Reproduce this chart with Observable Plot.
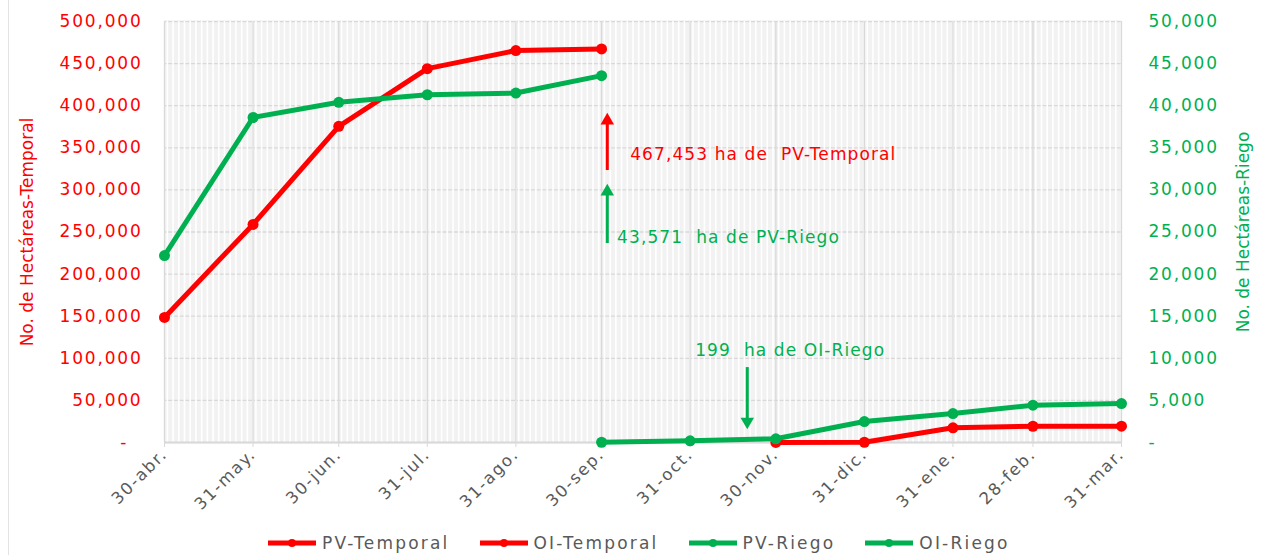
<!DOCTYPE html>
<html>
<head>
<meta charset="utf-8">
<script src="https://cdn.jsdelivr.net/npm/d3@7"></script>
<script src="https://cdn.jsdelivr.net/npm/@observablehq/plot@0.6"></script>
<style>
  html, body { margin: 0; padding: 0; background: #fff; }
  body { width: 1262px; height: 555px; position: relative; overflow: hidden; font-family: "DejaVu Sans", sans-serif; }
  #edge { position: absolute; left: 8px; top: 0; width: 1px; height: 555px; background: #e3e3e3; }
  #legend { position: absolute; left: 268px; top: 533px; display: flex;
            font-size: 17px; letter-spacing: 2.2px; color: #595959; }
  .item { display: flex; align-items: center; margin-right: 30px; }
  .item svg { margin-right: 6px; }
</style>
</head>
<body>
<div id="edge"></div>
<div id="chart"></div>
<div id="legend"></div>
<script>
// ---- data ----
const dates = ["2022-04-30","2022-05-31","2022-06-30","2022-07-31","2022-08-31","2022-09-30",
               "2022-10-31","2022-11-30","2022-12-31","2023-01-31","2023-02-28","2023-03-31"];
const xLabels = ["30-abr.","31-may.","30-jun.","31-jul.","31-ago.","30-sep.",
                 "31-oct.","30-nov.","31-dic.","31-ene.","28-feb.","31-mar."];
const pvTemporal = [148500, 259000, 375500, 444000, 465500, 467453, null, null, null, null, null, null];
const oiTemporal = [null, null, null, null, null, null, null, 50, 300, 17500, 19300, 19400];
const pvRiego    = [22200, 38600, 40400, 41300, 41500, 43571, null, null, null, null, null, null];
const oiRiego    = [null, null, null, null, null, 30, 199, 440, 2490, 3440, 4430, 4630];
const seriesNames = ["PV-Temporal", "OI-Temporal", "PV-Riego", "OI-Riego"];
const leftTicks = [0, 50000, 100000, 150000, 200000, 250000, 300000, 350000, 400000, 450000, 500000];
const rightTicks = [0, 5000, 10000, 15000, 20000, 25000, 30000, 35000, 40000, 45000, 50000];
// annotations (data units: date, left-axis value)
const annoTexts = ["467,453 ha de \u00a0PV-Temporal", "43,571 \u00a0ha de PV-Riego", "199 \u00a0ha de OI-Riego"];
const annoDates = ["2022-10-10", "2022-10-05T10:00", "2022-11-01T18:00"];
const annoValues = [342000, 243500, 109300];
const arrowDates = ["2022-10-02", "2022-10-02", "2022-11-20"];
const arrowFrom = [323000, 236300, 89000];
const arrowTo = [380000, 295700, 28500];
const arrowHead = [382400, 298100, 24900];
const arrowRotate = [0, 0, 180];

const RED = "#ff0000", GREEN = "#00b050";
const seriesColors = [RED, RED, GREEN, GREEN];
const ratio = 10; // right axis scale factor

const parse = s => new Date(s + (s.length === 10 ? "T00:00Z" : "Z"));
const dateObjs = dates.map(parse);
const rows = (arr, k) => dateObjs.map((d, i) => ({date: d, v: arr[i] == null ? null : arr[i] * k})).filter(r => r.v != null);
const annoColors = [RED, GREEN, GREEN];
const annos = annoTexts.map((t, i) => ({t, date: parse(annoDates[i]), v: annoValues[i], c: annoColors[i]}));
const arrows = arrowDates.map((d, i) => ({date: parse(d), from: arrowFrom[i], to: arrowTo[i], head: arrowHead[i], rot: arrowRotate[i], c: [RED, GREEN, GREEN][i]}));
const fmt = d3.format(",");
const labelOf = d => xLabels[dateObjs.findIndex(t => +t === +d)];

const lineMarks = [];
[[pvTemporal, 1, RED], [oiTemporal, 1, RED], [pvRiego, ratio, GREEN], [oiRiego, ratio, GREEN]].forEach(([arr, k, c]) => {
  const data = rows(arr, k);
  lineMarks.push(Plot.lineY(data, {x: "date", y: "v", stroke: c, strokeWidth: 5}));
  lineMarks.push(Plot.dot(data, {x: "date", y: "v", fill: c, r: 5.5}));
});

const svg = Plot.plot({
  width: 1262, height: 520,
  marginTop: 21, marginBottom: 78, marginLeft: 164, marginRight: 141,
  style: {fontFamily: "'DejaVu Sans', sans-serif", fontSize: "17px", background: "transparent", overflow: "visible"},
  x: {type: "utc", domain: [dateObjs[0], dateObjs[dateObjs.length - 1]]},
  y: {domain: [0, 500000]},
  marks: [
    Plot.frame({fill: "#f2f2f2", stroke: null}),
    Plot.gridY({ticks: leftTicks, stroke: "#d9d9d9", strokeOpacity: 1, strokeWidth: 1.3}),
    Plot.gridX({ticks: d3.utcDay.every(2), stroke: "#ffffff", strokeOpacity: 1, strokeWidth: 1.6}),
    Plot.gridX({ticks: dateObjs, stroke: "#d9d9d9", strokeOpacity: 1, strokeWidth: 1.3}),
    Plot.ruleY([0], {stroke: "#d9d9d9", strokeWidth: 2}),
    Plot.axisX({ticks: dateObjs, tickFormat: labelOf, tickRotate: -45, tickSize: 5, tickPadding: 4,
                stroke: "#d9d9d9", fill: "#595959", label: null, fontSize: 16.5}),
    Plot.axisY({anchor: "left", ticks: leftTicks, tickSize: 0, tickPadding: 22,
                tickFormat: d => d === 0 ? "-\u00a0\u00a0" : fmt(d), color: RED,
                label: "No. de Hectáreas-Temporal", labelAnchor: "center", labelArrow: "none", labelOffset: 144}),
    Plot.axisY({anchor: "right", ticks: rightTicks.map(d => d * ratio), tickSize: 0, tickPadding: 27,
                tickFormat: d => d === 0 ? "-" : fmt(d / ratio), color: GREEN,
                label: "No. de Hectáreas-Riego", labelAnchor: "center", labelArrow: "none", labelOffset: 127}),
    ...lineMarks,
    Plot.ruleX(arrows, {x: "date", y1: "from", y2: "to", stroke: "c", strokeWidth: 3}),
    Plot.dot(arrows, {x: "date", y: "head", symbol: "triangle", r: 5, fill: "c", stroke: null, rotate: "rot"}),
    Plot.text(annos, {x: "date", y: "v", text: "t", fill: "c", textAnchor: "start", lineAnchor: "middle", fontSize: 17})
  ]
});

d3.select(svg).selectAll('g[aria-label="y-axis tick label"], g[aria-label="x-axis tick label"]').attr("letter-spacing", "1.8px");
d3.select(svg).selectAll('g[aria-label="text"]').attr("letter-spacing", "1.1px");
d3.select(svg).selectAll('g[aria-label="y-axis label"] text').attr("font-size", 17);
document.getElementById("chart").appendChild(svg);

// legend
const legend = document.getElementById("legend");
seriesNames.forEach((name, i) => {
  const item = document.createElement("div");
  item.className = "item";
  item.innerHTML = `<svg width="48" height="12"><line x1="0" x2="48" y1="6" y2="6" stroke="${seriesColors[i]}" stroke-width="5"/><circle cx="24" cy="6" r="4" fill="${seriesColors[i]}"/></svg><span>${name}</span>`;
  legend.appendChild(item);
});
</script>
</body>
</html>
